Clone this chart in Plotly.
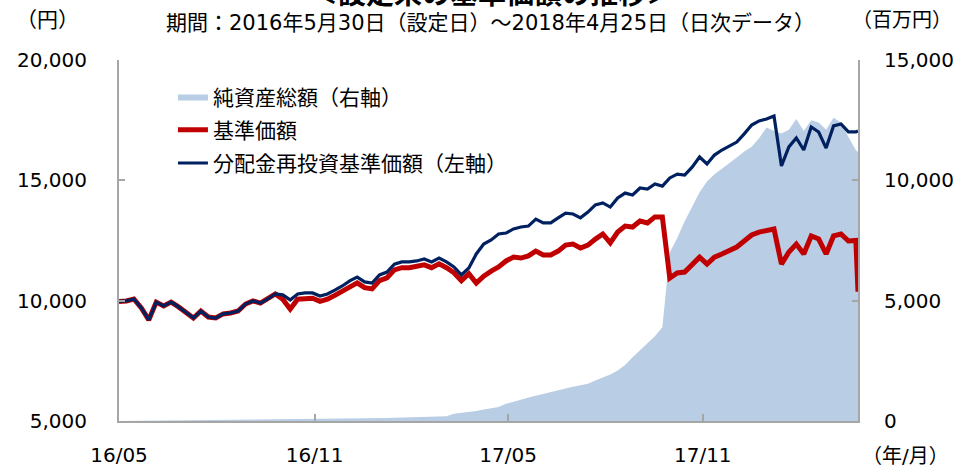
import pandas as pd
import plotly.graph_objects as go

# ---- data (weekly readings from the chart, last point = 2018-04-25) ----
dates = list(pd.date_range("2016-05-30", "2018-04-23", freq="7D").strftime("%Y-%m-%d")) + ["2018-04-25"]

reinvest_nav = [9970, 9990, 10070, 9700, 9200, 9940, 9780, 9940, 9740, 9530,
                9280, 9570, 9320, 9280, 9450, 9490, 9570, 9860, 9990, 9900,
                10070, 10280, 10240, 10030, 10280, 10320, 10320, 10190, 10280, 10440,
                10610, 10820, 10980, 10780, 10730, 11070, 11190, 11520, 11610, 11610,
                11650, 11730, 11610, 11770, 11610, 11400, 11070, 11360, 11940, 12350,
                12520, 12770, 12810, 12980, 13060, 13100, 13390, 13230, 13230, 13440,
                13640, 13600, 13440, 13680, 13980, 14060, 13890, 14270, 14470, 14390,
                14680, 14640, 14850, 14760, 15100, 15260, 15220, 15550, 15970, 15680,
                16050, 16260, 16430, 16590, 16930, 17300, 17470, 17550, 17670, 15600,
                16390, 16760, 16260, 17220, 17010, 16340, 17260, 17340, 17010, 17010,
                17050]

nav = [9970, 9990, 10070, 9700, 9200, 9940, 9780, 9940, 9740, 9530,
       9280, 9570, 9320, 9280, 9450, 9490, 9570, 9860, 9990, 9900,
       10070, 10280, 10060, 9650, 10060, 10100, 10100, 9970, 10060, 10220,
       10380, 10580, 10740, 10540, 10490, 10830, 10950, 11280, 11370, 11370,
       11410, 11490, 11370, 11530, 11370, 11160, 10830, 11120, 10730, 11020,
       11230, 11400, 11650, 11810, 11770, 11860, 12060, 11900, 11900, 12060,
       12310, 12350, 12190, 12310, 12560, 12770, 12400, 12850, 13100, 13060,
       13310, 13230, 13480, 13480, 10940, 11150, 11190, 11480, 11810, 11520,
       11810, 11940, 12110, 12230, 12480, 12730, 12850, 12890, 12980, 11520,
       12020, 12350, 11940, 12690, 12560, 11940, 12690, 12770, 12480, 12500,
       10370]

net_assets = [2, 5, 8, 10, 12, 14, 15, 17, 18, 20,
              22, 24, 26, 28, 30, 33, 36, 40, 43, 46,
              50, 53, 56, 60, 63, 67, 72, 76, 80, 85,
              90, 95, 100, 105, 110, 118, 125, 135, 145, 150,
              155, 160, 165, 175, 200, 300, 340, 360, 420, 480,
              540, 580, 720, 790, 880, 980, 1060, 1140, 1210, 1290,
              1350, 1420, 1480, 1550, 1680, 1790, 1930, 2100, 2330, 2650,
              2950, 3250, 3520, 3900, 7000, 7600, 8300, 8900, 9500, 9950,
              10250, 10480, 10700, 10950, 11200, 11400, 11750, 12200, 12050, 11950,
              12100, 12550, 12050, 12500, 12400, 12100, 12600, 12400, 11800, 11250,
              11180]

x_tick_dates = ["2016-05-30", "2016-11-30", "2017-05-31", "2017-11-30"]
x_tick_text = ["16/05", "16/11", "17/05", "17/11"]
left_ticks = [5000, 10000, 15000, 20000]
right_ticks = [0, 5000, 10000, 15000]

FONT = "'DejaVu Sans', 'Noto Sans CJK JP', sans-serif"
JP = "'DejaVu Sans', 'Noto Sans CJK JP', sans-serif"
AXC = "#a6a6a6"

fig = go.Figure()
fig.add_trace(go.Scatter(x=dates, y=net_assets, mode="lines", fill="tozeroy",
                         line=dict(width=0, color="#b9cde5"), fillcolor="#b9cde5",
                         name="純資産総額（右軸）", yaxis="y", legendgroup="a"))
fig.add_trace(go.Scatter(x=dates, y=nav, mode="lines",
                         line=dict(width=5, color="#c00000"),
                         name="基準価額", yaxis="y2", legendgroup="b"))
fig.add_trace(go.Scatter(x=dates, y=reinvest_nav, mode="lines",
                         line=dict(width=3.2, color="#002060"),
                         name="分配金再投資基準価額（左軸）", yaxis="y2", legendgroup="c"))

fig.update_layout(
    width=954, height=470,
    margin=dict(l=119, r=96, t=60, b=49),
    paper_bgcolor="white", plot_bgcolor="white",
    font=dict(family=FONT, size=20, color="#000000"),
    showlegend=True,
    legend=dict(x=0.073, y=0.955, xanchor="left", yanchor="top",
                font=dict(family=JP, size=21), traceorder="grouped",
                tracegroupgap=3, bgcolor="rgba(0,0,0,0)"),
    xaxis=dict(type="date", range=["2016-05-30", "2018-04-25"],
               tickvals=x_tick_dates, ticktext=x_tick_text,
               ticks="inside", ticklen=7, tickcolor=AXC, tickwidth=2,
               showline=True, linecolor=AXC, linewidth=2, showgrid=False,
               zeroline=False, ticklabelstandoff=15, automargin=False,
               tickfont=dict(family=FONT, size=20)),
    yaxis=dict(side="right", range=[0, 15000], tickvals=right_ticks,
               tickformat=",d", ticks="inside", ticklen=6, tickcolor=AXC, tickwidth=2,
               showline=True, linecolor=AXC, linewidth=2, showgrid=False,
               zeroline=False, ticklabelstandoff=20, automargin=False,
               tickfont=dict(family=FONT, size=20)),
    yaxis2=dict(side="left", overlaying="y", anchor="x", range=[5000, 20000],
                tickvals=left_ticks, tickformat=",d", ticks="inside", ticklen=6,
                tickcolor=AXC, tickwidth=2, showline=True, linecolor=AXC, linewidth=2,
                showgrid=False, zeroline=False, ticklabelstandoff=26, automargin=False,
                tickfont=dict(family=FONT, size=20)),
)

def px(xp, yp):
    return (xp - 119) / 739.0, (421 - yp) / 361.0

annots = [
    ("＜設定来の基準価額の推移＞", 492, -5, 28, True),
    ("期間：2016年5月30日（設定日）～2018年4月25日（日次データ）", 490, 23, 21, False),
    ("（円）", 47, 20, 21, False),
    ("（百万円）", 902, 20, 20, False),
    ("（年/月）", 906, 456, 20, False),
]
for text, xp, yp, size, bold in annots:
    ax, ay = px(xp, yp)
    fig.add_annotation(text=f"<b>{text}</b>" if bold else text, x=ax, y=ay,
                       xref="paper", yref="paper", showarrow=False,
                       xanchor="center", yanchor="middle",
                       font=dict(family=JP, size=size, color="#000000"))

fig.write_html("out.html", config={"displayModeBar": False},
               post_script="document.body.style.margin='0';")
